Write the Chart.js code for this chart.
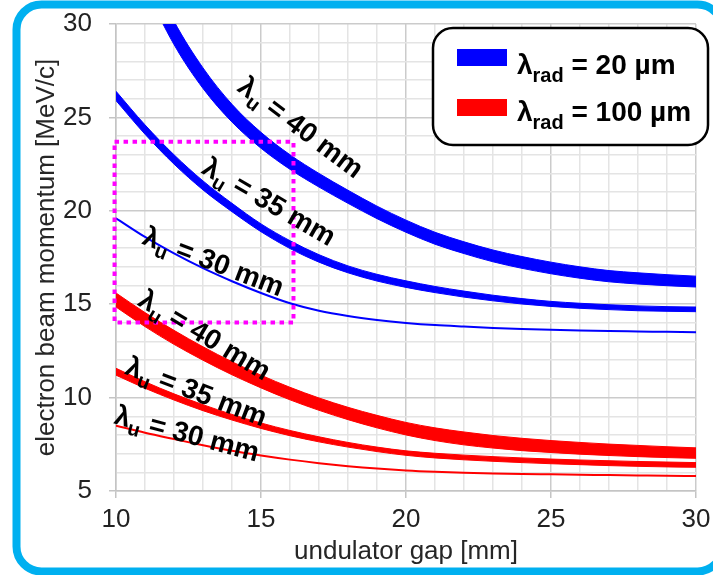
<!DOCTYPE html>
<html>
<head>
<meta charset="utf-8">
<script src="https://cdn.jsdelivr.net/npm/chart.js@4.4.0/dist/chart.umd.min.js"></script>
<style>
  html, body { margin: 0; padding: 0; background: #fff; }
  canvas { display: block; }
</style>
</head>
<body>
<canvas id="chart" width="713" height="575"></canvas>
<script>
// undulator gap [mm]
const gap = [10, 11, 12, 13, 14, 15, 16, 17, 18, 19, 20, 21, 22, 23, 24, 25, 26, 27, 28, 29, 30];

// lambda_rad = 20 um (blue), upper / lower edge of each band, MeV/c
const blue40Hi = [37.0, 33.4, 30.15, 27.65, 25.7, 24.2, 23.0, 22.0, 21.1, 20.25, 19.5, 18.85, 18.34, 17.9, 17.55, 17.25, 17.0, 16.8, 16.68, 16.58, 16.5];
const blue40Lo = [35.6, 32.0, 28.9, 26.55, 24.75, 23.35, 22.22, 21.27, 20.4, 19.58, 18.85, 18.21, 17.71, 17.27, 16.92, 16.63, 16.39, 16.2, 16.08, 15.99, 15.92];
const blue35Hi = [26.4, 24.6, 23.0, 21.6, 20.4, 19.3, 18.4, 17.65, 17.05, 16.6, 16.25, 15.95, 15.7, 15.48, 15.3, 15.15, 15.05, 14.97, 14.91, 14.87, 14.85];
const blue35Lo = [25.9, 24.1, 22.5, 21.12, 19.95, 18.88, 17.98, 17.25, 16.68, 16.24, 15.9, 15.62, 15.38, 15.18, 15.01, 14.88, 14.78, 14.71, 14.65, 14.62, 14.6];
const blue30 = [19.6, 18.6, 17.72, 16.93, 16.23, 15.6, 15.05, 14.65, 14.37, 14.16, 14.0, 13.88, 13.8, 13.73, 13.67, 13.63, 13.59, 13.56, 13.54, 13.52, 13.5];

// lambda_rad = 100 um (red)
const red40Hi = [15.6, 14.55, 13.6, 12.72, 11.92, 11.2, 10.55, 9.98, 9.48, 9.05, 8.67, 8.38, 8.16, 7.97, 7.82, 7.7, 7.6, 7.51, 7.44, 7.37, 7.31];
const red40Lo = [14.85, 13.8, 12.85, 12.0, 11.22, 10.52, 9.88, 9.32, 8.82, 8.38, 8.0, 7.7, 7.47, 7.3, 7.16, 7.06, 6.97, 6.9, 6.84, 6.79, 6.75];
const red35Hi = [11.57, 10.85, 10.2, 9.62, 9.1, 8.64, 8.24, 7.9, 7.6, 7.35, 7.15, 7.02, 6.92, 6.84, 6.77, 6.71, 6.66, 6.62, 6.58, 6.55, 6.52];
const red35Lo = [11.2, 10.5, 9.87, 9.3, 8.8, 8.35, 7.96, 7.63, 7.35, 7.11, 6.91, 6.77, 6.67, 6.59, 6.52, 6.46, 6.41, 6.36, 6.32, 6.29, 6.27];
const red30 = [8.5, 8.12, 7.78, 7.45, 7.15, 6.9, 6.68, 6.49, 6.33, 6.2, 6.1, 6.03, 5.98, 5.94, 5.91, 5.89, 5.87, 5.85, 5.83, 5.81, 5.8];

const xTicks = [10, 15, 20, 25, 30];
const yTicks = [5, 10, 15, 20, 25, 30];

const FONT = "'Liberation Sans', Arial, sans-serif";
const BLUE = '#0000ff';
const RED = '#ff0000';

const pts = (arr) => arr.map((v, i) => ({ x: gap[i], y: v }));

function band(hi, lo, color) {
  return [
    { data: pts(hi), borderColor: color, backgroundColor: color, borderWidth: 1, fill: '+1' },
    { data: pts(lo), borderColor: color, borderWidth: 1, fill: false }
  ];
}
function thin(arr, color) {
  return { data: pts(arr), borderColor: color, borderWidth: 2, fill: false };
}

// curve labels: lambda_u = ... mm, placed along the curves (data coords + angle)
const curveLabels = [
  { rest: ' = 40 mm', x: 16.37, y: 24.46, angle: 37 },
  { rest: ' = 35 mm', x: 15.28, y: 20.48, angle: 30 },
  { rest: ' = 30 mm', x: 13.36, y: 17.27, angle: 21 },
  { rest: ' = 40 mm', x: 13.06, y: 13.35, angle: 31 },
  { rest: ' = 35 mm', x: 12.77, y: 10.32, angle: 21 },
  { rest: ' = 30 mm', x: 12.45, y: 8.06, angle: 15 }
];

function drawRich(ctx, parts, x, y) {
  let cx = x;
  for (const p of parts) {
    ctx.font = `bold ${p.size}px ${FONT}`;
    ctx.fillText(p.t, cx, y + (p.dy || 0));
    cx += ctx.measureText(p.t).width;
  }
}
function richWidth(ctx, parts) {
  let w = 0;
  for (const p of parts) {
    ctx.font = `bold ${p.size}px ${FONT}`;
    w += ctx.measureText(p.t).width;
  }
  return w;
}
function roundRectPath(ctx, x, y, w, h, r) {
  ctx.beginPath();
  ctx.moveTo(x + r, y);
  ctx.lineTo(x + w - r, y);
  ctx.arcTo(x + w, y, x + w, y + r, r);
  ctx.lineTo(x + w, y + h - r);
  ctx.arcTo(x + w, y + h, x + w - r, y + h, r);
  ctx.lineTo(x + r, y + h);
  ctx.arcTo(x, y + h, x, y + h - r, r);
  ctx.lineTo(x, y + r);
  ctx.arcTo(x, y, x + r, y, r);
  ctx.closePath();
}

const overlays = {
  id: 'overlays',
  beforeDraw(chart) {
    const ctx = chart.ctx;
    ctx.save();
    ctx.fillStyle = '#fff';
    ctx.fillRect(0, 0, chart.width, chart.height);
    ctx.restore();
  },
  afterDatasetsDraw(chart) {
    const ctx = chart.ctx;
    const xs = chart.scales.x, ys = chart.scales.y;

    // magenta dotted zoom box
    ctx.save();
    ctx.strokeStyle = '#ff00ff';
    ctx.lineWidth = 4;
    ctx.setLineDash([4.5, 4.5]);
    const bx0 = xs.getPixelForValue(9.95), bx1 = xs.getPixelForValue(16.12);
    const by0 = ys.getPixelForValue(23.69), by1 = ys.getPixelForValue(14.02);
    ctx.strokeRect(bx0, by0, bx1 - bx0, by1 - by0);
    ctx.restore();

    // curve labels
    ctx.save();
    ctx.fillStyle = '#000';
    ctx.textBaseline = 'alphabetic';
    for (const l of curveLabels) {
      const parts = [
        { t: '\u03bb', size: 28 },
        { t: 'u', size: 20, dy: 7 },
        { t: l.rest, size: 28 }
      ];
      const w = richWidth(ctx, parts);
      ctx.save();
      ctx.translate(xs.getPixelForValue(l.x), ys.getPixelForValue(l.y));
      ctx.rotate(l.angle * Math.PI / 180);
      drawRich(ctx, parts, -w / 2, 9);
      ctx.restore();
    }
    ctx.restore();

    // legend
    ctx.save();
    roundRectPath(ctx, 433, 28, 275, 117, 20);
    ctx.fillStyle = '#fff';
    ctx.fill();
    ctx.lineWidth = 2.5;
    ctx.strokeStyle = '#000';
    ctx.stroke();
    const rows = [
      { color: BLUE, rest: ' = 20 \u00b5m', y: 74, sy: 49 },
      { color: RED, rest: ' = 100 \u00b5m', y: 121, sy: 99 }
    ];
    for (const r of rows) {
      ctx.fillStyle = r.color;
      ctx.fillRect(457, r.sy, 50, 17);
      ctx.fillStyle = '#000';
      drawRich(ctx, [
        { t: '\u03bb', size: 28 },
        { t: 'rad', size: 20, dy: 8 },
        { t: r.rest, size: 28 }
      ], 517, r.y);
    }
    ctx.restore();
  },
  afterDraw(chart) {
    // cyan rounded frame (right side runs off the canvas)
    const ctx = chart.ctx;
    ctx.save();
    ctx.strokeStyle = '#00b0f0';
    ctx.lineWidth = 8;
    roundRectPath(ctx, 16.5, 4.5, 706, 567, 25);
    ctx.stroke();
    ctx.restore();
  }
};

const majorX = (v) => xTicks.includes(v);
const majorY = (v) => yTicks.includes(v);

new Chart(document.getElementById('chart'), {
  type: 'line',
  data: {
    datasets: [
      ...band(blue40Hi, blue40Lo, BLUE),
      ...band(blue35Hi, blue35Lo, BLUE),
      thin(blue30, BLUE),
      ...band(red40Hi, red40Lo, RED),
      ...band(red35Hi, red35Lo, RED),
      thin(red30, RED)
    ]
  },
  options: {
    responsive: false,
    devicePixelRatio: 1,
    animation: false,
    layout: { padding: { left: 0, right: 17, top: 24, bottom: 0 } },
    elements: {
      point: { radius: 0 },
      line: { cubicInterpolationMode: 'monotone' }
    },
    plugins: { legend: { display: false }, tooltip: { enabled: false } },
    scales: {
      x: {
        type: 'linear',
        min: 10,
        max: 30,
        ticks: {
          stepSize: 1,
          autoSkip: false,
          maxRotation: 0,
          padding: 6,
          color: '#222',
          font: { family: FONT, size: 26 },
          callback: (v) => (majorX(v) ? String(v) : '')
        },
        grid: {
          color: (c) => (c.tick && majorX(c.tick.value) ? '#cbcbcb' : '#e4e4e4'),
          lineWidth: 1.5,
          tickLength: 7,
          tickColor: (c) => (c.tick && majorX(c.tick.value) ? '#c4c4c4' : 'rgba(0,0,0,0)')
        },
        border: { color: '#c4c4c4', width: 1.5 },
        title: {
          display: true,
          text: 'undulator gap [mm]',
          color: '#262626',
          font: { family: FONT, size: 26 },
          padding: { top: 0, bottom: 8 }
        },
        afterFit: (s) => { s.height = 84; s.paddingLeft = 0; s.paddingRight = 0; }
      },
      y: {
        type: 'linear',
        min: 5,
        max: 30,
        ticks: {
          stepSize: 1,
          autoSkip: false,
          padding: 17,
          color: '#222',
          font: { family: FONT, size: 26 },
          callback: (v) => (majorY(v) ? String(v) : '')
        },
        grid: {
          color: (c) => (c.tick && majorY(c.tick.value) ? '#cbcbcb' : '#e4e4e4'),
          lineWidth: 1.5,
          tickLength: 7,
          tickColor: (c) => (c.tick && majorY(c.tick.value) ? '#c4c4c4' : 'rgba(0,0,0,0)')
        },
        border: { color: '#c4c4c4', width: 1.5 },
        title: {
          display: true,
          text: 'electron beam momentum [MeV/c]',
          color: '#262626',
          font: { family: FONT, size: 26 },
          padding: { top: 31, bottom: 0 }
        },
        afterFit: (s) => { s.width = 116; s.paddingTop = 0; s.paddingBottom = 0; }
      }
    }
  },
  plugins: [overlays]
});
</script>
</body>
</html>
